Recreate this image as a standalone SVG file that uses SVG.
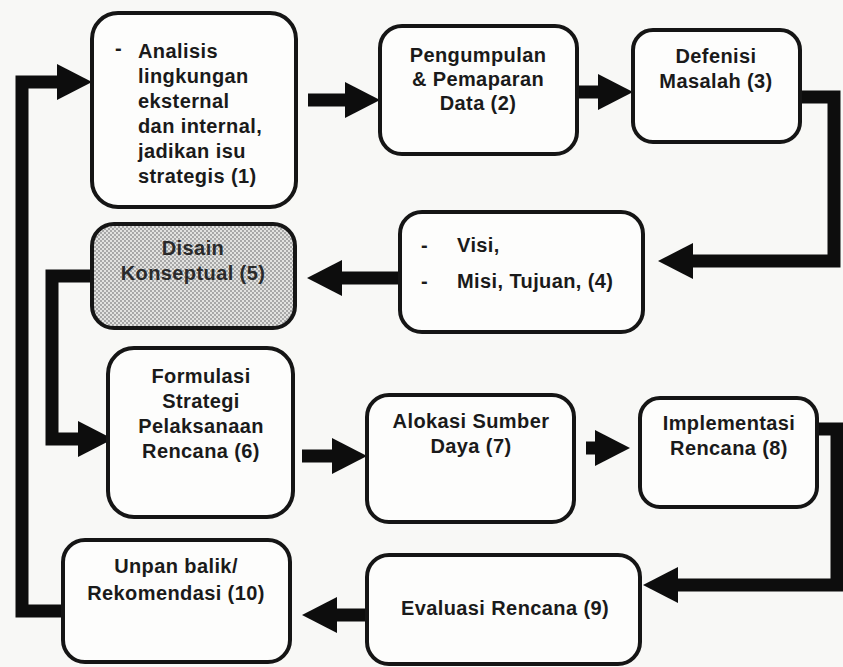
<svg xmlns="http://www.w3.org/2000/svg" width="843" height="667" viewBox="0 0 843 667">
  <style>
    .box { fill: #fdfdfc; stroke: #151515; stroke-width: 4; }
    .shaded { fill: url(#halftone); stroke: #151515; stroke-width: 4; }
    .lbl { font-family: "Liberation Sans", Arial, sans-serif; font-weight: bold; font-size: 20px; fill: #1a1a1a; letter-spacing: 0.4px; }
    .mid { text-anchor: middle; }
    .link { fill: none; stroke: #0d0d0d; stroke-width: 13; stroke-linejoin: miter; stroke-linecap: butt; marker-end: url(#head); }
  </style>
  <defs>
    <pattern id="halftone" width="4" height="4" patternUnits="userSpaceOnUse">
      <rect width="4" height="4" fill="#e2e2e0"/>
      <circle cx="1" cy="1" r="0.9" fill="#8c8c8c"/>
      <circle cx="3" cy="3" r="0.9" fill="#8c8c8c"/>
    </pattern>
    <marker id="head" markerUnits="userSpaceOnUse" markerWidth="36" markerHeight="36" refX="0" refY="18" orient="auto" overflow="visible">
      <path d="M0,0 L35,18 L0,36 Z" fill="#0d0d0d"/>
    </marker>
  </defs>

  <rect width="843" height="667" fill="#f8f8f6"/>

  <!-- connectors -->
  <g id="connectors">
    <path class="link" d="M308,100 H345"/>
    <path class="link" d="M577,92 H598"/>
    <path class="link" d="M800,97 H834 V261 H693"/>
    <path class="link" d="M400,278 H342"/>
    <path class="link" d="M92,276 H52 V439 H78"/>
    <path class="link" d="M302,456 H332"/>
    <path class="link" d="M586,448 H595"/>
    <path class="link" d="M817,429 H837 V585 H678"/>
    <path class="link" d="M367,615 H337"/>
    <path class="link" d="M63,611 H22 V82 H57"/>
  </g>

  <g id="n1">
    <rect class="box" x="92" y="13" width="204" height="194" rx="26"/>
    <text class="lbl" x="115" y="55">-</text>
    <text class="lbl" x="138" y="58">Analisis</text>
    <text class="lbl" x="138" y="83">lingkungan</text>
    <text class="lbl" x="138" y="108">eksternal</text>
    <text class="lbl" x="138" y="133">dan internal,</text>
    <text class="lbl" x="138" y="158">jadikan isu</text>
    <text class="lbl" x="138" y="183">strategis (1)</text>
  </g>

  <g id="n2">
    <rect class="box" x="380" y="26" width="197" height="128" rx="22"/>
    <text class="lbl mid" x="478" y="62">Pengumpulan</text>
    <text class="lbl mid" x="478" y="86">&amp; Pemaparan</text>
    <text class="lbl mid" x="478" y="110">Data (2)</text>
  </g>

  <g id="n3">
    <rect class="box" x="633" y="30" width="167" height="112" rx="20"/>
    <text class="lbl mid" x="716" y="63">Defenisi</text>
    <text class="lbl mid" x="716" y="88">Masalah (3)</text>
  </g>

  <g id="n4">
    <rect class="box" x="400" y="212" width="243" height="120" rx="22"/>
    <text class="lbl" x="421" y="252">-</text>
    <text class="lbl" x="457" y="252">Visi,</text>
    <text class="lbl" x="421" y="288">-</text>
    <text class="lbl" x="457" y="288">Misi, Tujuan,  (4)</text>
  </g>

  <g id="n5">
    <rect class="shaded" x="92" y="224" width="203" height="104" rx="22"/>
    <text class="lbl mid" x="193" y="255" style="fill:#2a2a2a">Disain</text>
    <text class="lbl mid" x="193" y="280" style="fill:#2a2a2a">Konseptual (5)</text>
  </g>

  <g id="n6">
    <rect class="box" x="108" y="348" width="185" height="169" rx="26"/>
    <text class="lbl mid" x="201" y="383">Formulasi</text>
    <text class="lbl mid" x="201" y="408">Strategi</text>
    <text class="lbl mid" x="201" y="433">Pelaksanaan</text>
    <text class="lbl mid" x="201" y="458">Rencana (6)</text>
  </g>

  <g id="n7">
    <rect class="box" x="367" y="395" width="207" height="127" rx="22"/>
    <text class="lbl mid" x="471" y="428">Alokasi Sumber</text>
    <text class="lbl mid" x="471" y="453">Daya (7)</text>
  </g>

  <g id="n8">
    <rect class="box" x="640" y="398" width="177" height="109" rx="20"/>
    <text class="lbl mid" x="729" y="430">Implementasi</text>
    <text class="lbl mid" x="729" y="455">Rencana (8)</text>
  </g>

  <g id="n9">
    <rect class="box" x="367" y="555" width="273" height="109" rx="22"/>
    <text class="lbl mid" x="505" y="615">Evaluasi Rencana (9)</text>
  </g>

  <g id="n10">
    <rect class="box" x="63" y="540" width="227" height="122" rx="22"/>
    <text class="lbl mid" x="176" y="573">Unpan balik/</text>
    <text class="lbl mid" x="176" y="600">Rekomendasi (10)</text>
  </g>
</svg>
